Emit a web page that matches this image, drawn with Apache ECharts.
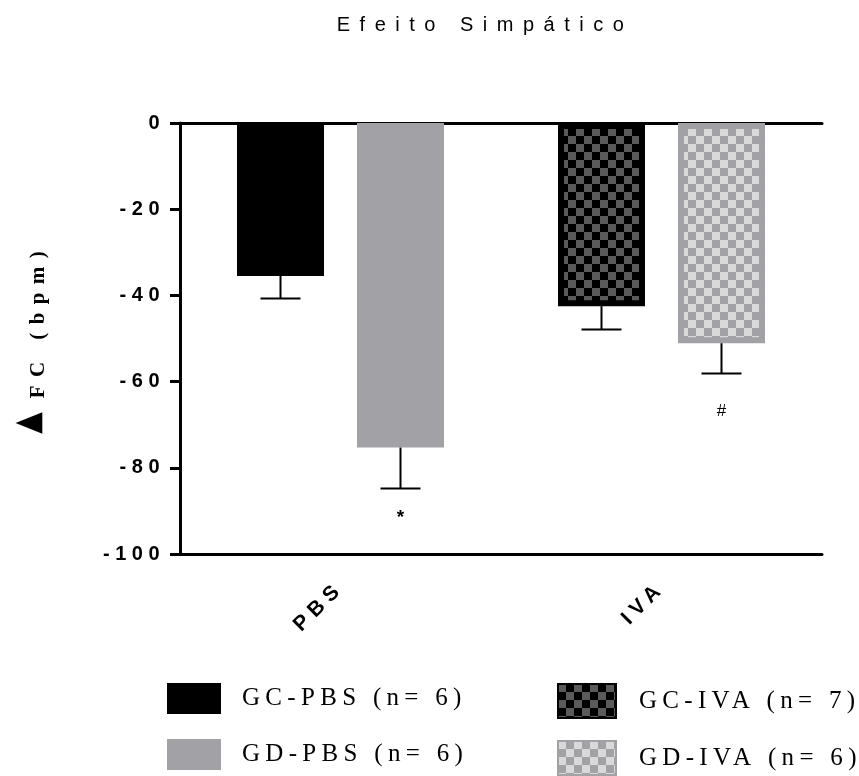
<!DOCTYPE html>
<html>
<head>
<meta charset="utf-8">
<script src="https://cdn.jsdelivr.net/npm/echarts@6/dist/echarts.min.js"></script>
<style>html,body{margin:0;padding:0;background:#fff}#c{width:859px;height:776px}</style>
</head>
<body>
<div id="c"></div>
<script>
// ---- data ----
const categories = ['PBS', 'IVA'];
const seriesNames = ['GC-PBS (n= 6)', 'GD-PBS (n= 6)', 'GC-IVA (n= 7)', 'GD-IVA (n= 6)'];
const seriesCategory = [0, 0, 1, 1];
const seriesSlot = [0, 1, 0, 1];
const means = [-35.5, -75.3, -42.5, -51.1];
const sems = [5.2, 9.5, 5.4, 7.0];
const annotations = ['', '*', '', '#'];
const annotationY = [null, -91.5, null, -66.8];
const yTicks = [0, -20, -40, -60, -80, -100];

// letter spacing to mimic the spaced typography of the original
(function () {
  const proto = CanvasRenderingContext2D.prototype;
  if (!('letterSpacing' in proto)) return;
  const table = { na20: 9.5, ba20: 5.5, ba21: 6, ns25: 5.3, bs21: 8.4 };
  const orig = proto.fillText;
  proto.fillText = function (text, x, y, maxW) {
    const f = this.font;
    const m = /(\d+(?:\.\d+)?)px/.exec(f);
    const fs = m ? Math.round(parseFloat(m[1])) : 12;
    const serif = /serif/i.test(f) && !/sans/i.test(f);
    const bold = /bold|700/.test(f);
    const key = (bold ? 'b' : 'n') + (serif ? 's' : 'a') + fs;
    const s = table[key] || 0;
    const prev = this.letterSpacing;
    this.letterSpacing = s + 'px';
    if (maxW === undefined) orig.call(this, text, x, y); else orig.call(this, text, x, y, maxW);
    this.letterSpacing = prev;
  };
})();

function checker(base, alt, cell) {
  const c = document.createElement('canvas');
  c.width = cell * 2; c.height = cell * 2;
  const g = c.getContext('2d');
  g.fillStyle = base; g.fillRect(0, 0, c.width, c.height);
  g.fillStyle = alt; g.fillRect(0, 0, cell, cell); g.fillRect(cell, cell, cell, cell);
  return c;
}

const GRAY = '#a2a1a6';
const fills = [
  '#000000',
  GRAY,
  { image: checker('#000000', '#5a5a5a', 8), repeat: 'repeat' },
  { image: checker(GRAY, '#d9d9d9', 8), repeat: 'repeat' }
];
const borders = ['#000000', GRAY, '#000000', GRAY];

const BAR_W = 87, BAR_GAP = 33, BORDER = 6;
const stacks = ['gc', 'gd', 'gc', 'gd'];

const barSeries = seriesNames.map((name, i) => ({
  name,
  type: 'bar',
  stack: stacks[i],
  barWidth: BAR_W,
  barGap: (BAR_GAP / BAR_W * 100).toFixed(1) + '%',
  itemStyle: { color: fills[i], borderColor: borders[i], borderWidth: BORDER },
  emphasis: { disabled: true },
  data: categories.map((c, k) => (k === seriesCategory[i] ? means[i] : null))
}));

const errData = means.map((m, i) => [seriesCategory[i], m, m - sems[i], seriesSlot[i]]);
const annData = annotations.map((t, i) => [seriesCategory[i], annotationY[i], seriesSlot[i], t]).filter(d => d[3]);

const offsetFor = slot => (slot === 0 ? -1 : 1) * (BAR_W + BAR_GAP) / 2;

const legendText = { fontFamily: 'Liberation Serif, Times New Roman', fontSize: 25, color: '#000' };
function legendItem(i, left, top, w, h, gap) {
  return {
    data: [seriesNames[i]], orient: 'vertical', left: left, top: top, padding: 0,
    itemWidth: w, itemHeight: h, icon: 'rect', selectedMode: false,
    textStyle: Object.assign({ padding: [0, 0, 0, gap] }, legendText)
  };
}

const option = {
  animation: false,
  backgroundColor: '#ffffff',
  title: {
    text: 'Efeito Simpático',
    left: 480, top: 10, textAlign: 'center',
    textStyle: { fontFamily: 'Liberation Sans, Arial', fontWeight: 'normal', fontSize: 20, color: '#000' }
  },
  legend: [
    legendItem(0, 167, 683, 52, 29, 17),
    legendItem(1, 167, 739, 52, 29, 17),
    legendItem(2, 557, 683, 58, 34, 18),
    legendItem(3, 557, 740, 58, 34, 18)
  ],
  graphic: [
    {
      type: 'text', x: 29, y: 423, rotation: Math.PI / 2, scaleY: 1.25,
      style: { text: '▲', font: '28px "DejaVu Sans"', fill: '#000', align: 'center', verticalAlign: 'middle' }
    }
  ],
  grid: { left: 180, right: 37, top: 123, bottom: 222, containLabel: false },
  xAxis: [
    {
      type: 'category', data: categories, position: 'bottom',
      axisLine: { onZero: false, lineStyle: { color: '#000', width: 3 } },
      axisTick: { alignWithLabel: true, length: 10, lineStyle: { color: '#000', width: 3 } },
      axisLabel: { rotate: 45, margin: 31, fontFamily: 'Liberation Sans, Arial', fontWeight: 'bold', fontSize: 21, color: '#000' },
      splitLine: { show: false }
    },
    {
      type: 'category', data: categories, position: 'top',
      axisLine: { onZero: false, lineStyle: { color: '#000', width: 3 } },
      axisTick: { show: false }, axisLabel: { show: false }, splitLine: { show: false }
    }
  ],
  yAxis: {
    type: 'value', min: -100, max: 0, interval: 20,
    name: 'FC (bpm)', nameLocation: 'middle', nameRotate: 90, nameGap: 131,
    nameTextStyle: {
      fontFamily: 'Liberation Serif, Times New Roman', fontWeight: 'bold', fontSize: 21, color: '#000',
      padding: [0, 0, 0, 36]
    },
    axisLine: { show: true, lineStyle: { color: '#000', width: 3 } },
    axisTick: { show: true, length: 10, lineStyle: { color: '#000', width: 3 } },
    axisLabel: {
      margin: 15, fontFamily: 'Liberation Sans, Arial', fontWeight: 'bold', fontSize: 20, color: '#000',
      customValues: yTicks
    },
    splitLine: { show: false }
  },
  series: barSeries.concat([
    {
      type: 'custom', name: 'err', silent: true, z: 5,
      data: errData,
      renderItem: function (params, api) {
        const top = api.coord([api.value(0), api.value(1)]);
        const low = api.coord([api.value(0), api.value(2)]);
        const x = top[0] + offsetFor(api.value(3));
        const st = { stroke: '#000', lineWidth: 2 };
        return {
          type: 'group', children: [
            { type: 'line', shape: { x1: x, y1: top[1], x2: x, y2: low[1] }, style: st },
            { type: 'line', shape: { x1: x - 20, y1: low[1], x2: x + 20, y2: low[1] }, style: st }
          ]
        };
      }
    },
    {
      type: 'custom', name: 'ann', silent: true, z: 5,
      data: annData,
      renderItem: function (params, api) {
        const p = api.coord([api.value(0), api.value(1)]);
        const x = p[0] + offsetFor(api.value(2));
        const t = annData[params.dataIndex][3];
        return {
          type: 'text', x: x, y: p[1],
          style: { text: t, align: 'center', verticalAlign: 'middle', fill: '#000',
            font: (t === '*' ? 'bold 19px' : 'normal 17px') + ' "Liberation Sans", Arial' }
        };
      }
    }
  ])
};

const chart = echarts.init(document.getElementById('c'), null, { renderer: 'canvas' });
chart.setOption(option);
</script>
</body>
</html>
